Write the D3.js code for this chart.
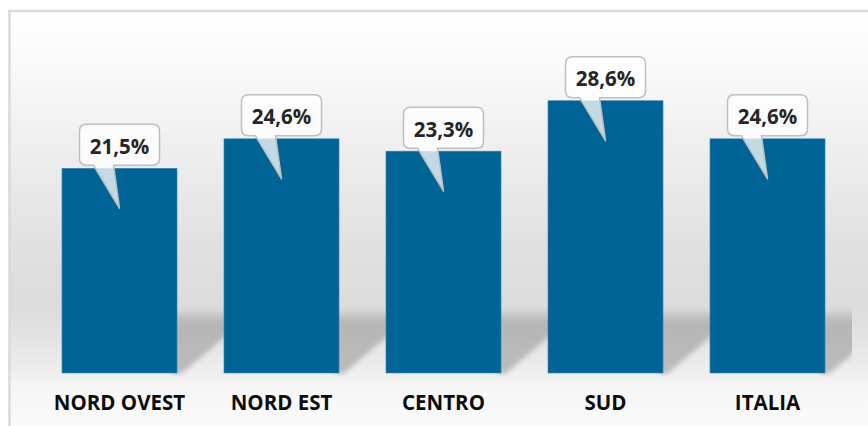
<html lang="it">
<head>
<meta charset="UTF-8">
<title>Bar chart</title>
<script src="https://d3js.org/d3.v7.min.js"></script>
<style>
  body { margin: 0; background: #ffffff; }
  svg { display: block; }
  .cat { font-family: "Open Sans", sans-serif; font-weight: 700; font-size: 20.5px; fill: #0d0d0d; }
  .val { font-family: "Open Sans", sans-serif; font-weight: 700; font-size: 20.5px; fill: #262626; }
</style>
</head>
<body>
<div id="chart"></div>
<script>
const categories = ["NORD OVEST", "NORD EST", "CENTRO", "SUD", "ITALIA"];
const values = [21.5, 24.6, 23.3, 28.6, 24.6];
const valueLabels = ["21,5%", "24,6%", "23,3%", "28,6%", "24,6%"];

const width = 868, height = 426;

const svg = d3.select("#chart").append("svg")
  .attr("width", width)
  .attr("height", height);

const defs = svg.append("defs");

// background wall gradient
const bg = defs.append("linearGradient")
  .attr("id", "bg")
  .attr("gradientUnits", "userSpaceOnUse")
  .attr("x1", 0).attr("y1", 11).attr("x2", 0).attr("y2", 426);
[[11, "#ffffff"], [60, "#fafafa"], [150, "#eeeeee"], [250, "#e0e0e0"], [305, "#dcdcdc"],
 [335, "#e2e2e2"], [372, "#eeeeee"], [388, "#f6f6f6"], [426, "#fafafa"]]
  .forEach(s => bg.append("stop").attr("offset", (s[0] - 11) / 415).attr("stop-color", s[1]));

// shadow fill, blur and clip to plot area
const sg = defs.append("linearGradient")
  .attr("id", "shade").attr("x1", 0).attr("y1", 0).attr("x2", 0).attr("y2", 1);
sg.append("stop").attr("offset", 0).attr("stop-color", "#b6b6b6").attr("stop-opacity", 0);
sg.append("stop").attr("offset", 0.22).attr("stop-color", "#b4b4b4").attr("stop-opacity", 0.95);
sg.append("stop").attr("offset", 1).attr("stop-color", "#b8b8b8").attr("stop-opacity", 0.95);
defs.append("filter").attr("id", "blur").attr("x", -0.5).attr("y", -0.5).attr("width", 2).attr("height", 2)
  .append("feGaussianBlur").attr("stdDeviation", 2.5);
defs.append("clipPath").attr("id", "plotclip")
  .append("rect").attr("x", 11).attr("y", 12).attr("width", 841).attr("height", 380);

svg.append("rect")
  .attr("x", 9.5).attr("y", 11)
  .attr("width", 900).attr("height", 460)
  .attr("fill", "url(#bg)")
  .attr("stroke", "#d9d9d9")
  .attr("stroke-width", 2.5);

const x = d3.scaleBand()
  .domain(categories)
  .range([38.5, 848.5])
  .paddingInner(0.29)
  .paddingOuter(0.145);

const y = d3.scaleLinear()
  .domain([0, 30])
  .range([373, 87.4]);

const bw = x.bandwidth();

// soft shadows cast to the right of each bar
svg.append("g")
  .attr("clip-path", "url(#plotclip)")
  .selectAll("path")
  .data(categories)
  .join("path")
  .attr("d", d => {
    const r = x(d) + bw, b = y(0);
    return `M${r - 4},${b - 66} L${r + 58},${b - 66} L${r + 58},${b - 45} L${r + 4},${b + 1} L${r - 4},${b + 1} Z`;
  })
  .attr("fill", "url(#shade)")
  .attr("filter", "url(#blur)");

// bars
svg.append("g").selectAll("rect")
  .data(values)
  .join("rect")
  .attr("x", (d, i) => x(categories[i]))
  .attr("y", d => y(d))
  .attr("width", bw)
  .attr("height", d => y(0) - y(d))
  .attr("fill", "#006496")
  .attr("stroke", "#3b82b0")
  .attr("stroke-width", 0.6);

// callouts
const callouts = svg.append("g").selectAll("g")
  .data(values)
  .join("g");

callouts.append("path")
  .attr("d", (d, i) => {
    const cx = x(categories[i]) + bw / 2, top = y(d);
    const L = cx - 40, R = cx + 40, T = top - 44, B = top - 3, r = 7;
    const tipY = top + 40;
    return `M${L + r},${T} H${R - r} Q${R},${T} ${R},${T + r} V${B - r} Q${R},${B} ${R - r},${B}` +
      ` H${L + 34} L${cx},${tipY} L${L + 14},${B} H${L + r} Q${L},${B} ${L},${B - r} V${T + r} Q${L},${T} ${L + r},${T} Z`;
  })
  .attr("fill", "rgba(255,255,255,0.76)")
  .attr("stroke", "#bfbfbf")
  .attr("stroke-width", 1.5)
  .attr("stroke-linejoin", "round");

callouts.append("text")
  .attr("class", "val")
  .attr("x", (d, i) => x(categories[i]) + bw / 2)
  .attr("y", d => y(d) - 14.5)
  .attr("text-anchor", "middle")
  .text((d, i) => valueLabels[i]);

// category axis labels
const xAxis = d3.axisBottom(x).tickSize(0).tickPadding(0);
const ax = svg.append("g")
  .attr("transform", `translate(0,${y(0)})`)
  .call(xAxis);
ax.select(".domain").remove();
ax.selectAll("text")
  .attr("class", "cat")
  .attr("dy", null)
  .attr("y", 37)
  .attr("fill", null);
</script>
</body>
</html>
